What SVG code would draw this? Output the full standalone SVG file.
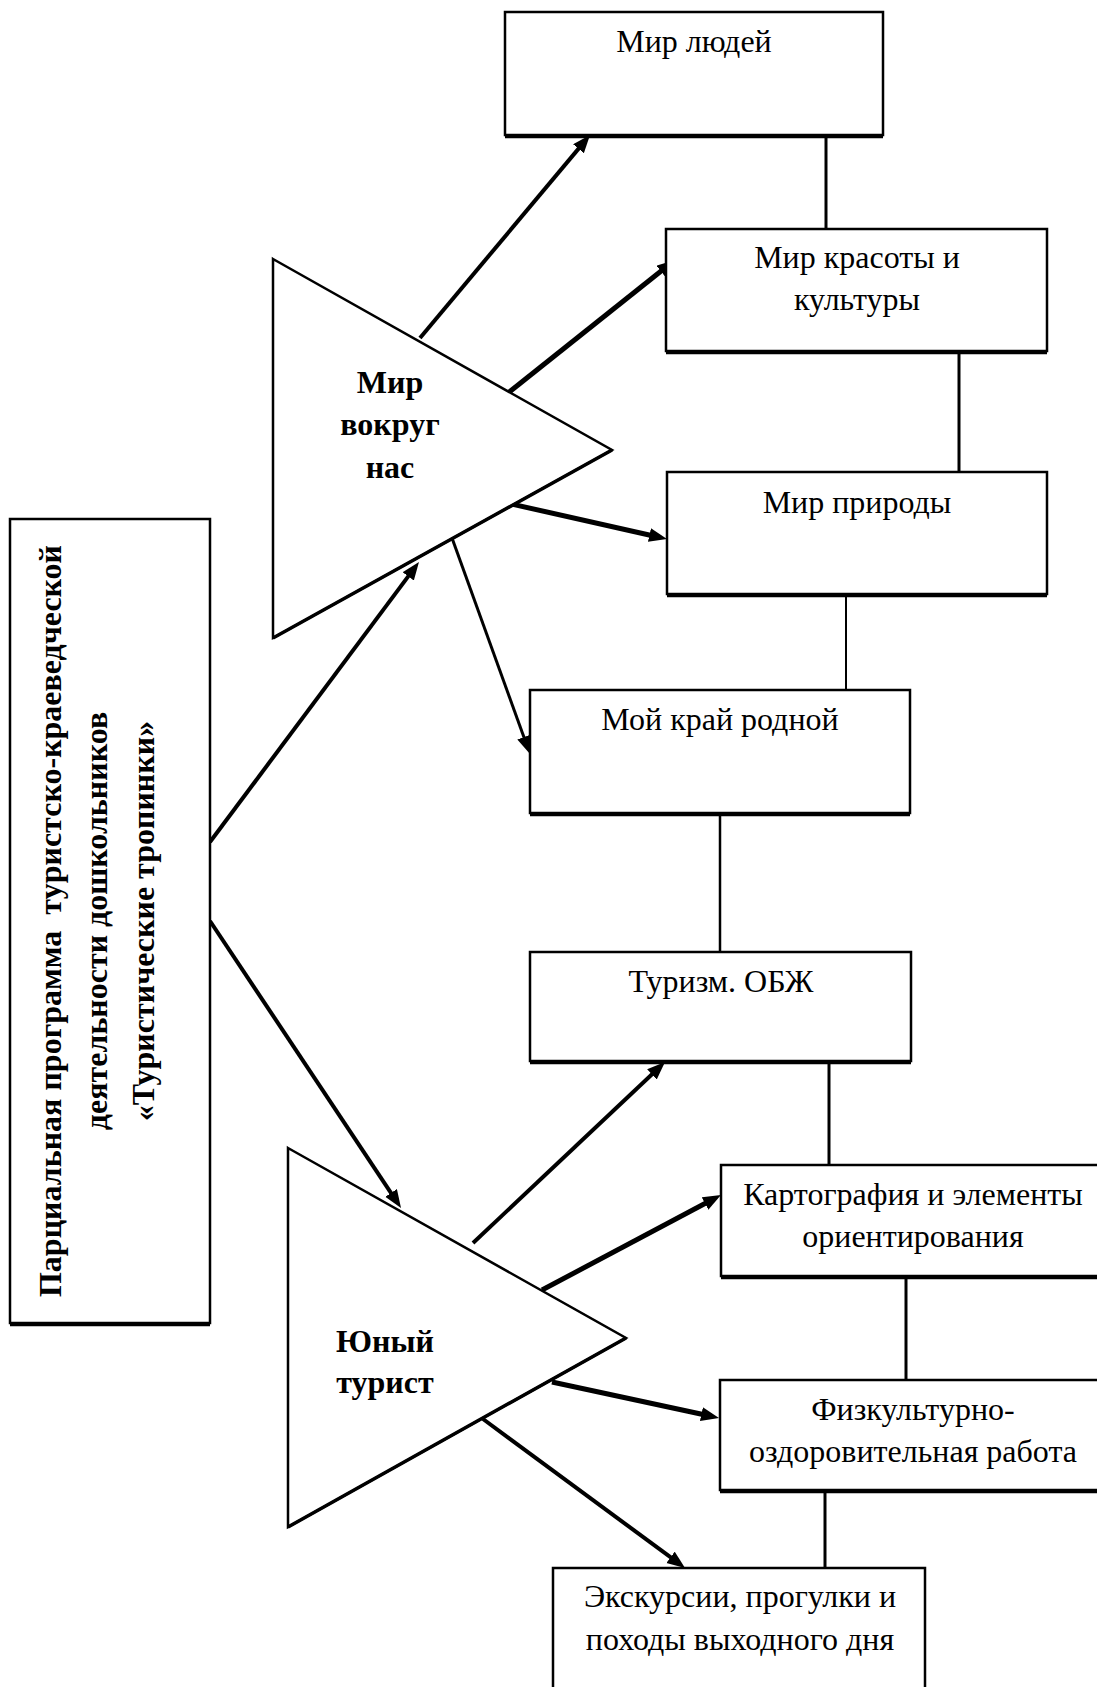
<svg xmlns="http://www.w3.org/2000/svg" width="1097" height="1687" viewBox="0 0 1097 1687">
<style>
.box{fill:#fff;stroke:#000;stroke-width:2.5}
.bot{stroke:#000;stroke-width:3.5}
.tri{fill:#fff;stroke:#000;stroke-width:2.5;stroke-linejoin:miter}
.edge{stroke:#000;stroke-width:3.5;fill:none}
.t{font-family:"Liberation Serif","Times New Roman",serif;font-size:32px;fill:#000;text-anchor:middle}
.b{font-weight:bold}
.con{stroke:#000;stroke-width:3;fill:none}
.arr{stroke:#000;fill:none;marker-end:url(#ah)}
</style>
<defs>
<marker id="ah" markerUnits="userSpaceOnUse" markerWidth="19" markerHeight="15" refX="10" refY="7" orient="auto">
<path d="M0,0 L18,7 L0,14 Z" fill="#000"/>
</marker>
</defs>
<rect width="1097" height="1687" fill="#fff"/>

<g id="connectors">
<line class="con" x1="826" y1="135" x2="826" y2="229"/>
<line class="con" x1="959" y1="351" x2="959" y2="472"/>
<line class="con" x1="846" y1="592" x2="846" y2="697" style="stroke-width:2"/>
<line class="con" x1="720" y1="813" x2="720" y2="952" style="stroke-width:2.5"/>
<line class="con" x1="829" y1="1061" x2="829" y2="1165"/>
<line class="con" x1="906" y1="1276" x2="906" y2="1380"/>
<line class="con" x1="825" y1="1490" x2="825" y2="1568"/>
<line class="arr" x1="210" y1="842" x2="414.2" y2="568.4" stroke-width="4"/>
<line class="arr" x1="210" y1="921" x2="396.6" y2="1201.3" stroke-width="4"/>
<line class="arr" x1="420" y1="338" x2="584.9" y2="141.1" stroke-width="4"/>
<line class="arr" x1="508" y1="393" x2="668.7" y2="265" stroke-width="5"/>
<line class="arr" x1="507" y1="503" x2="659.2" y2="537.2" stroke-width="5"/>
<line class="arr" x1="452" y1="538" x2="527.3" y2="746.5" stroke-width="3"/>
<line class="arr" x1="473" y1="1243" x2="659.2" y2="1067.5" stroke-width="4"/>
<line class="arr" x1="542" y1="1290" x2="713.9" y2="1198.8" stroke-width="5"/>
<line class="arr" x1="552" y1="1382" x2="711.2" y2="1416.3" stroke-width="5"/>
<line class="arr" x1="483" y1="1419" x2="678.6" y2="1563.2" stroke-width="4"/>
</g>

<g id="main">
<rect class="box" x="10" y="519" width="200" height="804"/>
<line class="bot" x1="10" y1="1324.5" x2="210" y2="1324.5"/>
<text class="t b" transform="translate(61,921) rotate(-90)" xml:space="preserve">Парциальная программа  туристско-краеведческой</text>
<text class="t b" transform="translate(107,921) rotate(-90)">деятельности дошкольников</text>
<text class="t b" transform="translate(154,921) rotate(-90)">«Туристические тропинки»</text>
</g>

<g id="tri1">
<polygon class="tri" points="273,259 612,450 273,638"/>
<line class="edge" x1="612" y1="450" x2="273" y2="638"/>
<text class="t b" x="390" y="393">Мир</text>
<text class="t b" x="390" y="435">вокруг</text>
<text class="t b" x="390" y="478">нас</text>
</g>

<g id="tri2">
<polygon class="tri" points="288,1148 626,1338 288,1527"/>
<line class="edge" x1="626" y1="1338" x2="288" y2="1527"/>
<text class="t b" x="385" y="1352">Юный</text>
<text class="t b" x="385" y="1393">турист</text>
</g>

<g id="n-lyudi">
<rect class="box" x="505" y="12" width="378" height="123"/>
<line class="bot" x1="505" y1="136.5" x2="883" y2="136.5"/>
<text class="t" x="694" y="52">Мир людей</text>
</g>

<g id="n-krasota">
<rect class="box" x="666" y="229" width="381" height="122"/>
<line class="bot" x1="666" y1="352.5" x2="1047" y2="352.5"/>
<text class="t" x="857" y="268">Мир красоты и</text>
<text class="t" x="857" y="310">культуры</text>
</g>

<g id="n-priroda">
<rect class="box" x="667" y="472" width="380" height="122"/>
<line class="bot" x1="667" y1="595.5" x2="1047" y2="595.5"/>
<text class="t" x="857" y="513">Мир природы</text>
</g>

<g id="n-krai">
<rect class="box" x="530" y="690" width="380" height="123"/>
<line class="bot" x1="530" y1="814.5" x2="910" y2="814.5"/>
<text class="t" x="720" y="730">Мой край родной</text>
</g>

<g id="n-turizm">
<rect class="box" x="530" y="952" width="381" height="109"/>
<line class="bot" x1="530" y1="1062.5" x2="911" y2="1062.5"/>
<text class="t" x="721" y="992">Туризм. ОБЖ</text>
</g>

<g id="n-karto">
<rect class="box" x="721" y="1165" width="384" height="111"/>
<line class="bot" x1="721" y1="1277.5" x2="1105" y2="1277.5"/>
<text class="t" x="913" y="1205">Картография и элементы</text>
<text class="t" x="913" y="1247">ориентирования</text>
</g>

<g id="n-fizkult">
<rect class="box" x="720" y="1380" width="385" height="110"/>
<line class="bot" x1="720" y1="1491.5" x2="1105" y2="1491.5"/>
<text class="t" x="913" y="1420">Физкультурно-</text>
<text class="t" x="913" y="1462">оздоровительная работа</text>
</g>

<g id="n-ekskursii">
<rect class="box" x="553" y="1568" width="372" height="140"/>
<text class="t" x="740" y="1607">Экскурсии, прогулки и</text>
<text class="t" x="740" y="1650">походы выходного дня</text>
</g>
</svg>
